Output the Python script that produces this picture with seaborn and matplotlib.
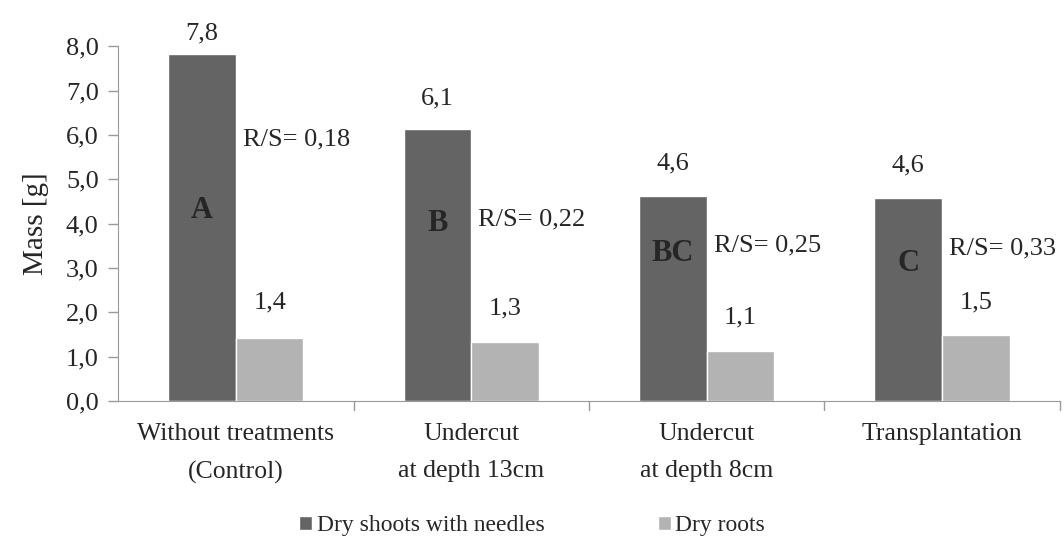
import matplotlib
matplotlib.use("Agg")
import matplotlib.pyplot as plt
import seaborn as sns
import pandas as pd
from matplotlib.patches import Patch

# data
categories = ["Without treatments\n(Control)", "Undercut\nat depth 13cm",
              "Undercut\nat depth 8cm", "Transplantation"]
shoots = [7.82, 6.13, 4.63, 4.57]
roots = [1.43, 1.33, 1.13, 1.48]
shoot_labels = ["7,8", "6,1", "4,6", "4,6"]
root_labels = ["1,4", "1,3", "1,1", "1,5"]
groups = ["A", "B", "BC", "C"]
rs_ratios = ["0,18", "0,22", "0,25", "0,33"]
series = ["Dry shoots with needles", "Dry roots"]
colors = ["#646464", "#b3b3b3"]

# annotation heights (data units) for the group letters and R/S texts
group_y = [4.3, 4.0, 3.33, 3.1]
rs_y = [5.9, 4.1, 3.5, 3.45]
# gap (points) between bar top and its value label
shoot_pad = [7, 14, 15, 16]
root_pad = [17, 16, 16, 16]

df = pd.DataFrame({
    "category": categories * 2,
    "series": [series[0]] * 4 + [series[1]] * 4,
    "mass": shoots + roots,
})

sns.set_style("white")
plt.rcParams["font.family"] = ["Liberation Serif", "DejaVu Serif"]

fig = plt.figure(figsize=(10.64, 5.44), dpi=100)
ax = fig.add_axes([0.111, 0.263, 0.885, 0.652])

sns.barplot(data=df, x="category", y="mass", hue="series", palette=colors,
            width=0.575, saturation=1, ax=ax, legend=False)

ax.set_ylim(0, 8)
ax.set_xlim(-0.5, 3.5)
ax.set_yticks([i for i in range(9)])
ax.set_yticklabels([f"{i},0" for i in range(9)], fontsize=19)
ax.set_ylabel("Mass [g]", fontsize=21, labelpad=12)
ax.set_xlabel("")
ax.tick_params(axis="x", length=0, labelsize=18.5, pad=16)
for lbl in ax.get_xticklabels():
    lbl.set_linespacing(1.9)
ax.tick_params(axis="y", length=7, color="#999999", direction="out", width=1, pad=7)
ax.yaxis.set_ticks_position("left")

# x tick marks at category boundaries
for b in [0.5, 1.5, 2.5, 3.5]:
    ax.plot([b, b], [0, -0.2], color="#999999", lw=1, clip_on=False)

for side in ["top", "right"]:
    ax.spines[side].set_visible(False)
for side in ["left", "bottom"]:
    ax.spines[side].set_color("#999999")

# value labels, group letters and R/S ratios
bw = 0.575 / 2
for i in range(4):
    xs = i - bw / 2
    xr = i + bw / 2
    ax.annotate(shoot_labels[i], (xs, shoots[i]), xytext=(0, shoot_pad[i]),
                textcoords="offset points", ha="center", va="bottom", fontsize=19)
    ax.annotate(root_labels[i], (xr, roots[i]), xytext=(0, root_pad[i]),
                textcoords="offset points", ha="center", va="bottom", fontsize=19)
    ax.text(xs, group_y[i], groups[i], ha="center", va="center", fontsize=22,
            fontweight="bold")
    ax.text(i + 0.03, rs_y[i], f"R/S= {rs_ratios[i]}", ha="left", va="center",
            fontsize=19)

handles = [Patch(facecolor=c, label=s) for c, s in zip(colors, series)]
fig.legend(handles=handles, loc="lower center", bbox_to_anchor=(0.5, -0.025),
           ncol=2, frameon=False, fontsize=17, handlelength=0.55, handleheight=0.55,
           handletextpad=0.2, columnspacing=4.8)

fig.savefig("out.png", dpi=100)
